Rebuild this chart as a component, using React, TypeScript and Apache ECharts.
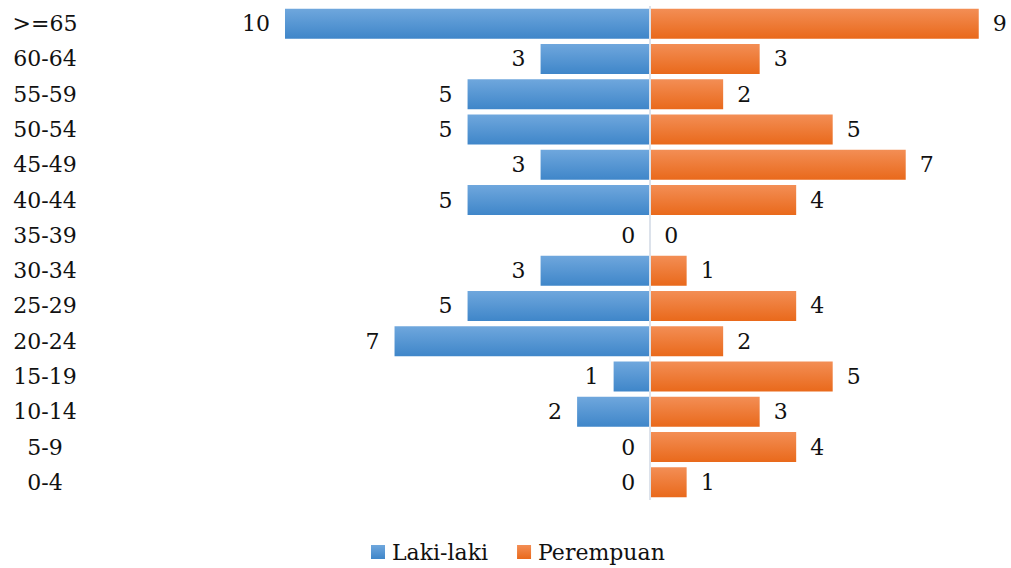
import React, { useEffect, useRef } from "react";
import * as echarts from "echarts";

const categories = ["0-4", "5-9", "10-14", "15-19", "20-24", "25-29", "30-34", "35-39", "40-44", "45-49", "50-54", "55-59", "60-64", ">=65"];
const lakiLaki = [0, 0, 2, 1, 7, 5, 3, 0, 5, 3, 5, 5, 3, 10];
const perempuan = [1, 4, 3, 5, 2, 4, 1, 0, 4, 7, 5, 2, 3, 9];

const FONT = "'DejaVu Serif', 'Liberation Serif', serif";

export default function App() {
  const ref = useRef<HTMLDivElement>(null);
  useEffect(() => {
    document.body.style.margin = "0";
    const chart = echarts.init(ref.current!, null, { renderer: "svg" });
    const blue = {
      type: "linear", x: 0, y: 0, x2: 0, y2: 1,
      colorStops: [{ offset: 0, color: "#6fa7dd" }, { offset: 1, color: "#3f86c9" }],
    };
    const orange = {
      type: "linear", x: 0, y: 0, x2: 0, y2: 1,
      colorStops: [{ offset: 0, color: "#f38e55" }, { offset: 1, color: "#e9691b" }],
    };
    chart.setOption({
      animation: false,
      textStyle: { fontFamily: FONT },
      grid: { left: 285, right: 14, top: 6, bottom: 68, containLabel: false },
      xAxis: {
        type: "value", min: -10, max: 9.5, show: false,
      },
      yAxis: {
        type: "category",
        data: categories,
        axisLine: { show: false },
        axisTick: { show: false },
        splitLine: { show: false },
        axisLabel: { margin: 240, align: "center", fontSize: 22, color: "#111", fontFamily: FONT },
      },
      legend: {
        bottom: 0,
        left: 366,
        itemWidth: 14,
        itemHeight: 14,
        itemGap: 29,
        icon: "rect",
        textStyle: { fontSize: 22, color: "#111", fontFamily: FONT, padding: [0, 0, 0, 2] },
        data: ["Laki-laki", "Perempuan"],
      },
      series: [
        {
          name: "Laki-laki",
          type: "bar",
          stack: "total",
          barCategoryGap: "15%",
          data: lakiLaki.map((v) => -v),
          itemStyle: { color: blue },
          label: {
            show: true, position: "left", distance: 15, fontSize: 22, color: "#111", fontFamily: FONT,
            formatter: (p: any) => String(Math.abs(p.value)),
          },
          markLine: {
            silent: true,
            symbol: "none",
            label: { show: false },
            lineStyle: { color: "#dce2eb", width: 2, type: "solid" },
            data: [{ xAxis: 0 }],
          },
        },
        {
          name: "Perempuan",
          type: "bar",
          stack: "total",
          barCategoryGap: "15%",
          data: perempuan,
          itemStyle: { color: orange },
          label: {
            show: true, position: "right", distance: 14, fontSize: 22, color: "#111", fontFamily: FONT,
          },
        },
      ],
    });
    return () => chart.dispose();
  }, []);
  return <div ref={ref} style={{ width: 1011, height: 568 }} />;
}
